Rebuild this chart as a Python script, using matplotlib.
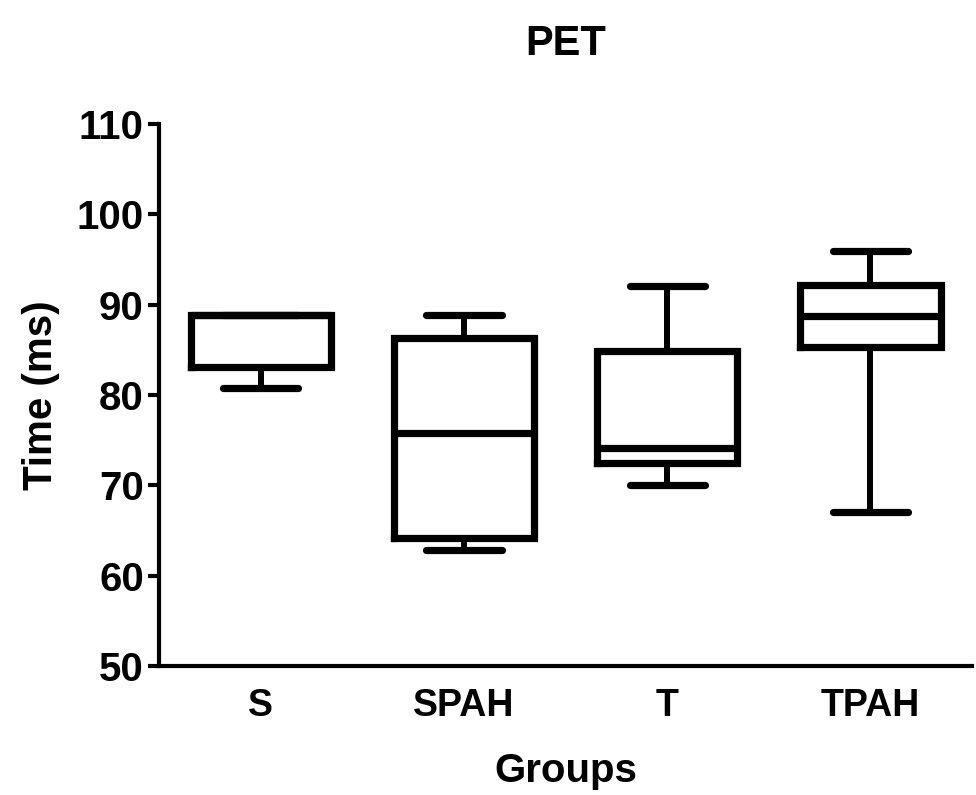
import matplotlib
matplotlib.use("Agg")
import matplotlib.pyplot as plt

groups = ["S", "SPAH", "T", "TPAH"]
whislo = [80.8, 62.9, 70.1, 67.1]
q1 = [83.1, 64.2, 72.5, 85.3]
med = [88.9, 75.8, 74.1, 88.8]
q3 = [88.9, 86.3, 84.9, 92.2]
whishi = [88.9, 88.9, 92.1, 96.0]
yticks = [50, 60, 70, 80, 90, 100, 110]

plt.rcParams['font.family'] = ['Liberation Sans', 'DejaVu Sans']
plt.rcParams['font.weight'] = 'bold'

fig = plt.figure(figsize=(9.76, 7.95), dpi=100)
ax = fig.add_axes([0.163, 0.162, 0.833, 0.682])

stats = []
for i, g in enumerate(groups):
    stats.append(dict(label=g, whislo=whislo[i], q1=q1[i], med=med[i],
                      q3=q3[i], whishi=whishi[i], fliers=[]))

lw = 5.2
ax.bxp(stats, positions=range(1, len(groups) + 1), widths=0.69,
       capwidths=0.37, showfliers=False,
       boxprops=dict(color='black', linewidth=lw, solid_joinstyle='miter'),
       medianprops=dict(color='black', linewidth=lw),
       whiskerprops=dict(color='black', linewidth=4.3),
       capprops=dict(color='black', linewidth=lw, solid_capstyle='round'))

ax.set_xlim(0.5, 4.5)
ax.set_ylim(50, 110)
ax.set_yticks(yticks)
ax.set_yticklabels([str(t) for t in yticks])
ax.spines['top'].set_visible(False)
ax.spines['right'].set_visible(False)
ax.spines['left'].set_linewidth(3)
ax.spines['bottom'].set_linewidth(3)
ax.tick_params(axis='y', length=8, width=3, labelsize=29, pad=3)
ax.tick_params(axis='x', length=0, labelsize=27, pad=16)
for lab in ax.get_xticklabels() + ax.get_yticklabels():
    lab.set_fontweight('bold')

ax.set_title("PET", fontsize=30, fontweight='bold', pad=50)
ax.set_xlabel("Groups", fontsize=29, fontweight='bold', labelpad=20)
ax.set_ylabel("Time (ms)", fontsize=29, fontweight='bold', labelpad=12)

fig.savefig("out.png", dpi=100)
